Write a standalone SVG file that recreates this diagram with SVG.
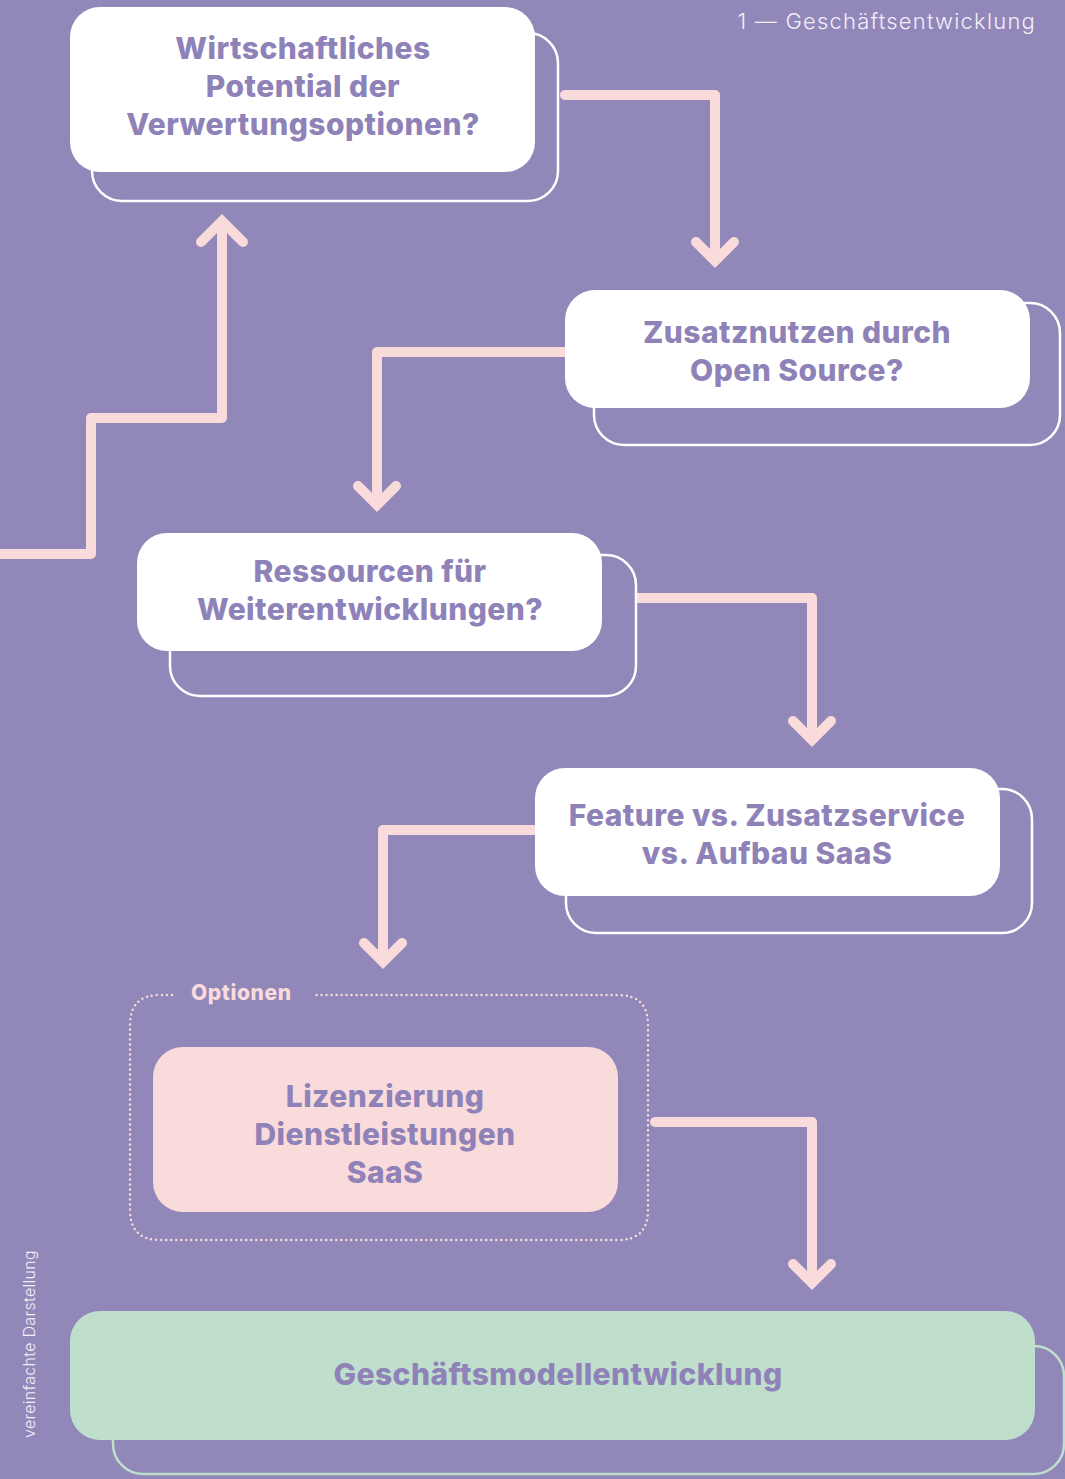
<svg xmlns="http://www.w3.org/2000/svg" width="1065" height="1479" viewBox="0 0 1065 1479">
  <style>
    .bg { fill: #9187b8; }
    .front { fill: #ffffff; }
    .back { fill: none; stroke: #ffffff; stroke-width: 2.5; }
    .label { font-family: Inter, "Open Sans", sans-serif; font-weight: 800; font-size: 30px; letter-spacing: 0.45px; fill: #8e82b8; text-anchor: middle; }
    .flow { fill: none; stroke: #fadbdc; stroke-width: 10; stroke-linejoin: round; stroke-linecap: butt; }
    .head { fill: none; stroke: #fadbdc; stroke-width: 10; stroke-linecap: round; stroke-linejoin: miter; }
    .note { font-family: Inter, "Open Sans", sans-serif; font-weight: 300; fill: #f3eef8; }
  </style>

  <rect class="bg" x="0" y="0" width="1065" height="1479"/>

  <!-- header and side note -->
  <text class="note" x="1036" y="29" font-size="22" letter-spacing="1.2" text-anchor="end">1 — Geschäftsentwicklung</text>
  <text class="note" x="0" y="0" font-size="16" letter-spacing="0.3" transform="translate(35,1438) rotate(-90)">vereinfachte Darstellung</text>

  <!-- connectors -->
  <g id="connectors">
    <!-- staircase rising to the first question -->
    <path class="flow" d="M0,554 H91 V418 H222 V222"/>
    <path class="head" d="M201,242 L222,221 L243,242"/>
    <!-- 1 -> 2 -->
    <path class="flow" d="M565,95 H715 V260" style="stroke-linecap:round"/>
    <path class="head" d="M696,242 L715,261 L734,242"/>
    <!-- 2 -> 3 -->
    <path class="flow" d="M566,352 H377 V505"/>
    <path class="head" d="M358,486 L377,505 L396,486"/>
    <!-- 3 -> 4 -->
    <path class="flow" d="M637,598 H812 V740"/>
    <path class="head" d="M793,721 L812,740 L831,721"/>
    <!-- 4 -> options -->
    <path class="flow" d="M536,830 H383 V962"/>
    <path class="head" d="M364,943 L383,962 L402,943"/>
    <!-- options -> business model -->
    <path class="flow" d="M655,1122 H812 V1283" style="stroke-linecap:round"/>
    <path class="head" d="M793,1264 L812,1283 L831,1264"/>
  </g>

  <g id="node-potential">
    <rect class="back" x="92" y="33" width="466" height="168" rx="30"/>
    <rect class="front" x="70" y="7" width="465" height="165" rx="30"/>
    <text class="label" x="303" y="59">Wirtschaftliches</text>
    <text class="label" x="303" y="97">Potential der</text>
    <text class="label" x="303" y="135">Verwertungsoptionen?</text>
  </g>

  <g id="node-opensource">
    <rect class="back" x="594" y="303" width="466" height="142" rx="30"/>
    <rect class="front" x="565" y="290" width="465" height="118" rx="30"/>
    <text class="label" x="797" y="343">Zusatznutzen durch</text>
    <text class="label" x="797" y="381">Open Source?</text>
  </g>

  <g id="node-resources">
    <rect class="back" x="170" y="555" width="466" height="141" rx="30"/>
    <rect class="front" x="137" y="533" width="465" height="118" rx="30"/>
    <text class="label" x="370" y="582">Ressourcen für</text>
    <text class="label" x="370" y="620">Weiterentwicklungen?</text>
  </g>

  <g id="node-feature">
    <rect class="back" x="566" y="789" width="466" height="144" rx="30"/>
    <rect class="front" x="535" y="768" width="465" height="128" rx="30"/>
    <text class="label" x="767" y="826">Feature vs. Zusatzservice</text>
    <text class="label" x="767" y="864">vs. Aufbau SaaS</text>
  </g>

  <g id="node-options">
    <path d="M172,995 H160 Q130,995 130,1025 V1210 Q130,1240 160,1240 H618 Q648,1240 648,1210 V1025 Q648,995 618,995 H314"
          fill="none" stroke="#fadbdc" stroke-width="2.5" stroke-dasharray="0 5" stroke-linecap="round"/>
    <text x="191" y="1000" font-family="Inter, 'Open Sans', sans-serif" font-weight="800" font-size="21" letter-spacing="0.6" fill="#fadbdc">Optionen</text>
    <rect x="153" y="1047" width="465" height="165" rx="30" fill="#fadbdc"/>
    <text class="label" x="385" y="1107">Lizenzierung</text>
    <text class="label" x="385" y="1145">Dienstleistungen</text>
    <text class="label" x="385" y="1183">SaaS</text>
  </g>

  <g id="node-businessmodel">
    <rect x="113" y="1346" width="951" height="128" rx="30" fill="none" stroke="#bfdfcc" stroke-width="2.5"/>
    <rect x="70" y="1311" width="965" height="129" rx="30" fill="#bfdfcc"/>
    <text class="label" x="558" y="1385">Geschäftsmodellentwicklung</text>
  </g>
</svg>
